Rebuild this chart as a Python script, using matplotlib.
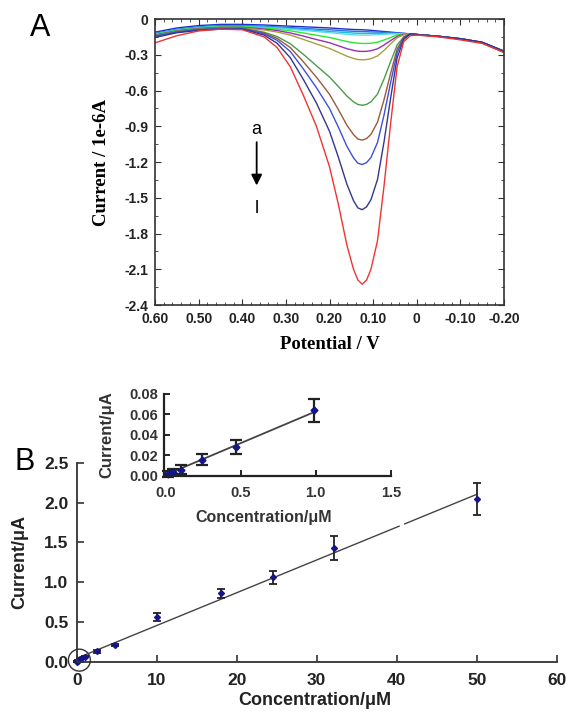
import matplotlib.pyplot as plt
from matplotlib.ticker import AutoMinorLocator
from matplotlib.patches import Ellipse

# ---- panel A: voltammograms a..l ----
potential = [0.60, 0.55, 0.50, 0.45, 0.40, 0.35, 0.32, 0.29, 0.26, 0.23, 0.20, 0.18, 0.16, 0.145, 0.135,
             0.125, 0.115, 0.105, 0.09, 0.075, 0.06, 0.045, 0.03, 0.015, 0.00, -0.05, -0.10, -0.15, -0.20]

curve_a = [-0.110, -0.075, -0.055, -0.045, -0.045, -0.050, -0.055, -0.060, -0.065, -0.070, -0.075, -0.080, -0.085, -0.088, -0.089,
           -0.090, -0.092, -0.095, -0.100, -0.105, -0.110, -0.115, -0.120, -0.125, -0.130, -0.145, -0.165, -0.195, -0.270]
curve_b = [-0.120, -0.085, -0.065, -0.055, -0.055, -0.060, -0.066, -0.072, -0.078, -0.085, -0.090, -0.095, -0.100, -0.103, -0.104,
           -0.105, -0.106, -0.108, -0.110, -0.113, -0.116, -0.119, -0.122, -0.125, -0.130, -0.145, -0.166, -0.197, -0.272]
curve_c = [-0.125, -0.090, -0.070, -0.060, -0.060, -0.066, -0.073, -0.080, -0.088, -0.096, -0.104, -0.109, -0.114, -0.118, -0.119,
           -0.120, -0.120, -0.120, -0.120, -0.120, -0.120, -0.121, -0.123, -0.125, -0.130, -0.146, -0.166, -0.197, -0.273]
curve_d = [-0.130, -0.095, -0.075, -0.065, -0.065, -0.071, -0.078, -0.086, -0.095, -0.105, -0.115, -0.121, -0.128, -0.132, -0.134,
           -0.135, -0.135, -0.134, -0.131, -0.128, -0.125, -0.124, -0.124, -0.125, -0.130, -0.146, -0.167, -0.198, -0.275]
curve_e = [-0.130, -0.095, -0.075, -0.065, -0.065, -0.075, -0.086, -0.099, -0.117, -0.136, -0.155, -0.172, -0.189, -0.199, -0.203,
           -0.205, -0.205, -0.203, -0.195, -0.176, -0.155, -0.134, -0.126, -0.125, -0.130, -0.146, -0.168, -0.200, -0.280]
curve_f = [-0.135, -0.100, -0.080, -0.070, -0.070, -0.084, -0.097, -0.117, -0.143, -0.172, -0.199, -0.224, -0.249, -0.263, -0.270,
           -0.272, -0.271, -0.266, -0.250, -0.218, -0.181, -0.146, -0.129, -0.125, -0.130, -0.146, -0.167, -0.198, -0.276]
curve_g = [-0.140, -0.105, -0.085, -0.075, -0.075, -0.092, -0.109, -0.135, -0.171, -0.209, -0.247, -0.279, -0.312, -0.331, -0.340,
           -0.343, -0.340, -0.333, -0.310, -0.263, -0.209, -0.157, -0.133, -0.125, -0.130, -0.146, -0.167, -0.198, -0.276]
curve_h = [-0.140, -0.105, -0.085, -0.075, -0.075, -0.111, -0.147, -0.207, -0.296, -0.392, -0.487, -0.565, -0.647, -0.695, -0.717,
           -0.724, -0.716, -0.695, -0.630, -0.503, -0.358, -0.218, -0.150, -0.125, -0.130, -0.147, -0.168, -0.200, -0.282]
curve_i = [-0.145, -0.110, -0.090, -0.080, -0.080, -0.117, -0.163, -0.239, -0.359, -0.488, -0.632, -0.758, -0.892, -0.970, -1.007,
           -1.016, -1.003, -0.968, -0.866, -0.677, -0.457, -0.251, -0.154, -0.125, -0.130, -0.145, -0.166, -0.197, -0.272]
curve_j = [-0.145, -0.110, -0.090, -0.080, -0.080, -0.124, -0.179, -0.272, -0.419, -0.576, -0.751, -0.905, -1.069, -1.165, -1.210,
           -1.221, -1.205, -1.162, -1.036, -0.805, -0.534, -0.281, -0.161, -0.125, -0.130, -0.145, -0.165, -0.196, -0.270]
curve_k = [-0.155, -0.115, -0.095, -0.085, -0.085, -0.135, -0.204, -0.324, -0.507, -0.705, -0.942, -1.156, -1.388, -1.524, -1.585,
           -1.600, -1.576, -1.516, -1.347, -1.030, -0.666, -0.325, -0.171, -0.125, -0.130, -0.145, -0.165, -0.195, -0.270]
curve_l = [-0.200, -0.140, -0.100, -0.085, -0.090, -0.150, -0.240, -0.400, -0.640, -0.900, -1.240, -1.550, -1.900, -2.100, -2.190,
           -2.225, -2.190, -2.100, -1.860, -1.400, -0.880, -0.400, -0.190, -0.140, -0.135, -0.150, -0.175, -0.205, -0.280]

curves = [curve_a, curve_b, curve_c, curve_d, curve_e, curve_f,
          curve_g, curve_h, curve_i, curve_j, curve_k, curve_l]
curve_colors = ['#1c2fd0', '#2e6fe0', '#22b8d8', '#60d8f0', '#2ee82e', '#9a2fb0',
                '#a8a040', '#4c9a4c', '#9a5a3c', '#3c50e0', '#34368c', '#f03434']

a_xticks = [0.60, 0.50, 0.40, 0.30, 0.20, 0.10, 0.0, -0.10, -0.20]
a_xlabels = ['0.60', '0.50', '0.40', '0.30', '0.20', '0.10', '0', '-0.10', '-0.20']
a_yticks = [0, -0.3, -0.6, -0.9, -1.2, -1.5, -1.8, -2.1, -2.4]
a_ylabels = ['0', '-0.3', '-0.6', '-0.9', '-1.2', '-1.5', '-1.8', '-2.1', '-2.4']

# ---- panel B: calibration ----
conc = [0.02, 0.05, 0.1, 0.22, 0.47, 1.0, 2.5, 4.8, 10, 18, 24.5, 32.2, 50]
curr = [0.002, 0.004, 0.007, 0.016, 0.029, 0.065, 0.13, 0.21, 0.56, 0.86, 1.06, 1.43, 2.04]
curr_err = [0.002, 0.002, 0.003, 0.005, 0.007, 0.011, 0.015, 0.015, 0.05, 0.055, 0.08, 0.15, 0.2]
fit_x1 = [0, 40.3]
fit_y1 = [0.043, 1.703]
fit_x2 = [41.0, 50]
fit_y2 = [1.732, 2.103]

ins_conc = [0.02, 0.05, 0.1, 0.24, 0.47, 0.99]
ins_curr = [0.002, 0.004, 0.0063, 0.0159, 0.0286, 0.064]
ins_err = [0.003, 0.003, 0.004, 0.0055, 0.0068, 0.011]
ins_fit_x = [0.0, 1.0]
ins_fit_y = [0.001, 0.063]

navy = '#14148c'
spine_c = '#333333'

fig = plt.figure(figsize=(5.67, 7.15), dpi=100)

# panel A
axA = fig.add_axes([0.2734, 0.5734, 0.6155, 0.40])
for ys, c in zip(curves, curve_colors):
    axA.plot(potential, ys, color=c, lw=1.0)
axA.set_xlim(0.60, -0.20)
axA.set_ylim(-2.4, 0)
axA.set_xticks(a_xticks)
axA.set_xticklabels(a_xlabels)
axA.set_yticks(a_yticks)
axA.set_yticklabels(a_ylabels)
axA.xaxis.set_minor_locator(AutoMinorLocator(5))
axA.yaxis.set_minor_locator(AutoMinorLocator(2))
axA.tick_params(which='both', direction='in', top=True, right=True, color=spine_c)
axA.tick_params(which='major', length=4, labelsize=10, pad=5)
axA.tick_params(which='minor', length=2)
for lab in axA.get_xticklabels() + axA.get_yticklabels():
    lab.set_fontweight('bold')
    lab.set_family('Liberation Sans')
    lab.set_color('#222222')
for s in axA.spines.values():
    s.set_color(spine_c)
    s.set_linewidth(1.2)
axA.set_ylabel('Current / 1e-6A', family='Liberation Serif', fontweight='bold', fontsize=13.5)
axA.yaxis.set_label_coords(-0.13, 0.5)
axA.set_xlabel('Potential / V', family='Liberation Serif', fontweight='bold', fontsize=13.5)
axA.xaxis.set_label_coords(0.5, -0.11)
axA.annotate('', xy=(0.367, -1.42), xytext=(0.367, -1.01),
             arrowprops=dict(arrowstyle='-|>', color='black', lw=1.3, mutation_scale=16))
axA.text(0.367, -0.93, 'a', ha='center', va='center', fontsize=13, family='Liberation Sans')
axA.text(0.367, -1.59, 'l', ha='center', va='center', fontsize=13, family='Liberation Sans')

# panel B main
axB = fig.add_axes([0.1353, 0.0745, 0.8466, 0.2783])
axB.plot(fit_x1, fit_y1, color='#444444', lw=1.0)
axB.plot(fit_x2, fit_y2, color='#444444', lw=1.0)
axB.errorbar(conc, curr, yerr=curr_err, fmt='D', ms=3, color=navy, ecolor='#222222',
             elinewidth=1.3, capsize=3, capthick=1.3, clip_on=False)
axB.set_xlim(0, 60)
axB.set_ylim(0, 2.5)
axB.set_xticks([0, 10, 20, 30, 40, 50, 60])
axB.set_yticks([0, 0.5, 1.0, 1.5, 2.0, 2.5])
axB.set_yticklabels(['0.0', '0.5', '1.0', '1.5', '2.0', '2.5'])
axB.spines['top'].set_visible(False)
axB.spines['right'].set_visible(False)
for s in ['left', 'bottom']:
    axB.spines[s].set_color(spine_c)
    axB.spines[s].set_linewidth(1.3)
axB.tick_params(direction='in', length=5, width=1.2, color=spine_c, labelsize=12.5)
axB.tick_params(axis='x', pad=8)
axB.tick_params(axis='y', pad=6)
for lab in axB.get_xticklabels() + axB.get_yticklabels():
    lab.set_fontweight('bold')
    lab.set_family('Liberation Sans')
    lab.set_color('#222222')
axB.set_xlabel('Concentration/μM', family='Liberation Sans', fontweight='bold', fontsize=13, color='#222222')
axB.xaxis.set_label_coords(0.496, -0.15)
axB.set_ylabel('Current/μA', family='Liberation Sans', fontweight='bold', fontsize=13, color='#222222')
axB.yaxis.set_label_coords(-0.10, 0.5)
axB.add_patch(Ellipse((0.33, 0.02), width=2.75, height=0.276, fill=False,
                      ec=spine_c, lw=1.0, clip_on=False))

# inset
axI = fig.add_axes([0.2892, 0.3343, 0.4003, 0.1147])
axI.plot(ins_fit_x, ins_fit_y, color='#444444', lw=1.3)
axI.errorbar(ins_conc, ins_curr, yerr=ins_err, fmt='D', ms=3.5, color=navy, ecolor='#222222',
             elinewidth=1.6, capsize=4, capthick=1.6, clip_on=False)
axI.set_xlim(-0.01, 1.5)
axI.set_ylim(0, 0.08)
axI.set_xticks([0.0, 0.5, 1.0, 1.5])
axI.set_xticklabels(['0.0', '0.5', '1.0', '1.5'])
axI.set_yticks([0.0, 0.02, 0.04, 0.06, 0.08])
axI.set_yticklabels(['0.00', '0.02', '0.04', '0.06', '0.08'])
axI.spines['top'].set_visible(False)
axI.spines['right'].set_visible(False)
for s in ['left', 'bottom']:
    axI.spines[s].set_color('#222222')
    axI.spines[s].set_linewidth(1.6)
axI.tick_params(direction='in', length=4, width=1.4, color='#222222', labelsize=10.5)
axI.tick_params(axis='x', pad=7)
axI.tick_params(axis='y', pad=4)
for lab in axI.get_xticklabels() + axI.get_yticklabels():
    lab.set_fontweight('bold')
    lab.set_family('Liberation Sans')
    lab.set_color('#333333')
axI.set_xlabel('Concentration/μM', family='Liberation Sans', fontweight='bold', fontsize=11.5, color='#333333')
axI.xaxis.set_label_coords(0.44, -0.42)
axI.set_ylabel('Current/μA', family='Liberation Sans', fontweight='bold', fontsize=12, color='#333333')
axI.yaxis.set_label_coords(-0.22, 0.5)

fig.text(0.0705, 0.961, 'A', fontsize=22, family='Liberation Sans', va='center', ha='center')
fig.text(0.044, 0.354, 'B', fontsize=22, family='Liberation Sans', va='center', ha='center')

plt.savefig('out.png', dpi=100)
